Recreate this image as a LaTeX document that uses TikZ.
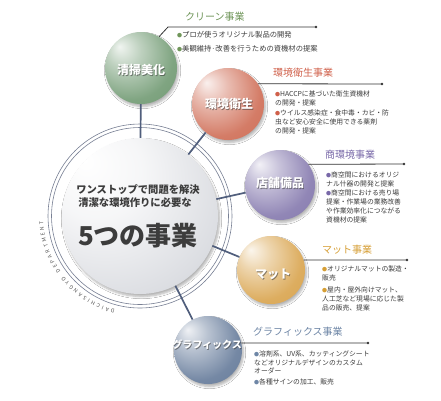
\documentclass[tikz,border=0pt]{standalone}
\usepackage{fontspec}
\setmainfont{Noto Sans CJK JP}
\usetikzlibrary{decorations.text,shadows.blur}

\definecolor{cgreen}{RGB}{110,152,112}
\definecolor{cred}{RGB}{206,106,82}
\definecolor{cpurple}{RGB}{130,118,172}
\definecolor{cgold}{RGB}{216,162,74}
\definecolor{cblue}{RGB}{98,120,152}
\definecolor{cgray}{RGB}{178,182,192}
\definecolor{tgreen}{RGB}{112,150,90}
\definecolor{tred}{RGB}{208,96,74}
\definecolor{tpurple}{RGB}{120,104,168}
\definecolor{tgold}{RGB}{214,158,52}
\definecolor{tblue}{RGB}{110,134,166}
\definecolor{conn}{RGB}{80,94,124}
\definecolor{ringc}{RGB}{120,128,148}
\definecolor{body}{RGB}{60,60,60}

\newcommand\defball[2]{\pgfdeclareradialshading{#1}{\pgfpoint{-15bp}{15bp}}{color(0bp)=(#2!10!white); color(12bp)=(#2!45!white); color(30bp)=(#2!88!white); color(48bp)=(#2); color(62bp)=(#2!85!black)}}
\defball{ballgreen}{cgreen}
\defball{ballred}{cred}
\defball{ballpurple}{cpurple}
\defball{ballgold}{cgold}
\defball{ballblue}{cblue}
\pgfdeclareradialshading{ballgray}{\pgfpoint{-18bp}{18bp}}{color(0bp)=(white); color(15bp)=(cgray!12!white); color(35bp)=(cgray!45!white); color(55bp)=(cgray!85!white); color(68bp)=(cgray)}

\newcommand\bl[1]{{\color{#1}\fontsize{5}{5}\selectfont ●}}
\newcommand\slabel[4]{\node[sphshadow,#4] (#1s) at (#2) {#3};\node[sphtext,#4] (#1t) at (#2) {#3};}

\tikzset{
  ball/.style={circle, inner sep=0pt, draw=none, blur shadow={shadow xshift=1.5pt, shadow yshift=-2.5pt, shadow blur steps=6, shadow opacity=30}},
  connline/.style={draw=conn, line width=1.7pt},
  ringline/.style={draw=ringc, line width=0.6pt},
  callline/.style={draw=black!80, line width=0.8pt},
  dot/.style={circle, fill=black!80, inner sep=0pt, minimum size=2.6pt},
  title/.style={anchor=west, inner sep=0pt, font=\fontsize{10}{12}\selectfont},
  bul/.style={anchor=north west, align=left, inner sep=0pt, font=\fontsize{6.8}{9}\selectfont, text=body},
  sphtext/.style={text=white, font=\bfseries\fontsize{12}{14}\selectfont, inner sep=0pt},
  sphshadow/.style={text=black!80, opacity=0.55, font=\bfseries\fontsize{12}{14}\selectfont, inner sep=0pt, xshift=0.9pt, yshift=-0.9pt},
  maintext/.style={text=body, font=\bfseries\fontsize{10.3}{12}\selectfont, inner sep=0pt}
}

\begin{document}
\begin{tikzpicture}[x=1pt,y=-1pt]
\useasboundingbox[fill=white] (0,0) rectangle (441,400);

% ring and arc text
\draw[ringline] (140,216) circle[radius=92pt];
\draw[ringline] (140,216) circle[radius=88.5pt];
\path[decorate, decoration={text along path, text align=fit to path,
  text={|\fontsize{5.2}{6}\selectfont\color{black!65}|DAICHISANGYO DEPARTMENT}}]
  (140,216) ++(255:97pt) arc[start angle=255, end angle=183, radius=97pt];

% spheres
\node[ball, shading=ballgray, minimum size=156pt] (main) at (140,216) {};
\node[ball, shading=ballgreen, minimum size=72pt] (gn) at (141,68) {};
\node[ball, shading=ballred, minimum size=72pt] (rd) at (228,104) {};
\node[ball, shading=ballpurple, minimum size=70pt] (pp) at (280,185) {};
\node[ball, shading=ballgold, minimum size=68pt] (gd) at (271,270) {};
\node[ball, shading=ballblue, minimum size=68pt] (bu) at (208,350) {};

% connectors
\draw[connline] (main) -- (gn);
\draw[connline] (main) -- (rd);
\draw[connline] (main) -- (pp);
\draw[connline] (main) -- (gd);
\draw[connline] (main) -- (bu);

% sphere labels
\slabel{gnl}{141,70}{清掃美化}{}
\slabel{rdl}{229,104}{環境衛生}{}
\slabel{ppl}{280,183}{店舗備品}{}
\slabel{gdl}{273,274}{マット}{}
\slabel{bul}{207,345}{グラフィックス}{font=\bfseries\fontsize{10}{12}\selectfont}

% main text
\node[maintext] (m1) at (138,190) {ワンストップで問題を解決};
\node[maintext] (m2) at (135,203) {清潔な環境作りに必要な};
\node[maintext, font=\bfseries\fontsize{26}{28}\selectfont] (m3) at (138,236) {5つの事業};

% green callout
\coordinate (gnA) at (168,27);
\node[dot] (gnD) at (316,27) {};
\draw[callline] (gn.60) -- (gnA) -- (gnD.center);
\node[title, text=tgreen] (gnT) at (185,17) {クリーン事業};
\node[bul, font=\fontsize{7.3}{9}\selectfont] (gnB1) at (177,31.5) {\bl{tgreen}プロが使うオリジナル製品の開発};
\node[bul, font=\fontsize{7.3}{9}\selectfont] (gnB2) at (177,45.5) {\bl{tgreen}美観維持·改善を行うための資機材の提案};

% red callout
\node[dot] (rdD) at (382,84) {};
\draw[callline] (rd.34) -- (rdD.center);
\node[title, text=tred] (rdT) at (273,73) {環境衛生事業};
\node[bul] (rdB1) at (275,90.7) {\bl{tred}HACCPに基づいた衛生資機材\\の開発・提案};
\node[bul] (rdB2) at (275,109.7) {\bl{tred}ウイルス感染症・食中毒・カビ・防\\虫など安心安全に使用できる薬剤\\の開発・提案};

% purple callout
\node[dot] (ppD) at (404,164) {};
\draw[callline] (pp.36) -- (ppD.center);
\node[title, text=tpurple] (ppT) at (325,155) {商環境事業};
\node[bul] (ppB1) at (326,171.7) {\bl{tpurple}商空間におけるオリジ\\ナル什器の開発と提案};
\node[bul] (ppB2) at (326,189.7) {\bl{tpurple}商空間における売り場\\提案・作業場の業務改善\\や作業効率化につながる\\資機材の提案};

% gold callout
\node[dot] (gdD) at (407,260) {};
\draw[callline] (gd.17) -- (gdD.center);
\node[title, text=tgold] (gdT) at (322,250) {マット事業};
\node[bul] (gdB1) at (322,265.7) {\bl{tgold}オリジナルマットの製造・\\販売};
\node[bul] (gdB2) at (322,286.7) {\bl{tgold}屋内・屋外向けマット、\\人工芝など現場に応じた製\\品の販売、提案};

% blue callout
\node[dot] (buD) at (368,343) {};
\draw[callline] (bu.12) -- (buD.center);
\node[title, text=tblue] (buT) at (253,332) {グラフィックス事業};
\node[bul, font=\fontsize{6.8}{8.5}\selectfont] (buB1) at (254,350.7) {\bl{tblue}溶剤系、UV系、カッティングシート\\などオリジナルデザインのカスタム\\オーダー};
\node[bul] (buB2) at (254,378.7) {\bl{tblue}各種サインの加工、販売};
\end{tikzpicture}
\end{document}
